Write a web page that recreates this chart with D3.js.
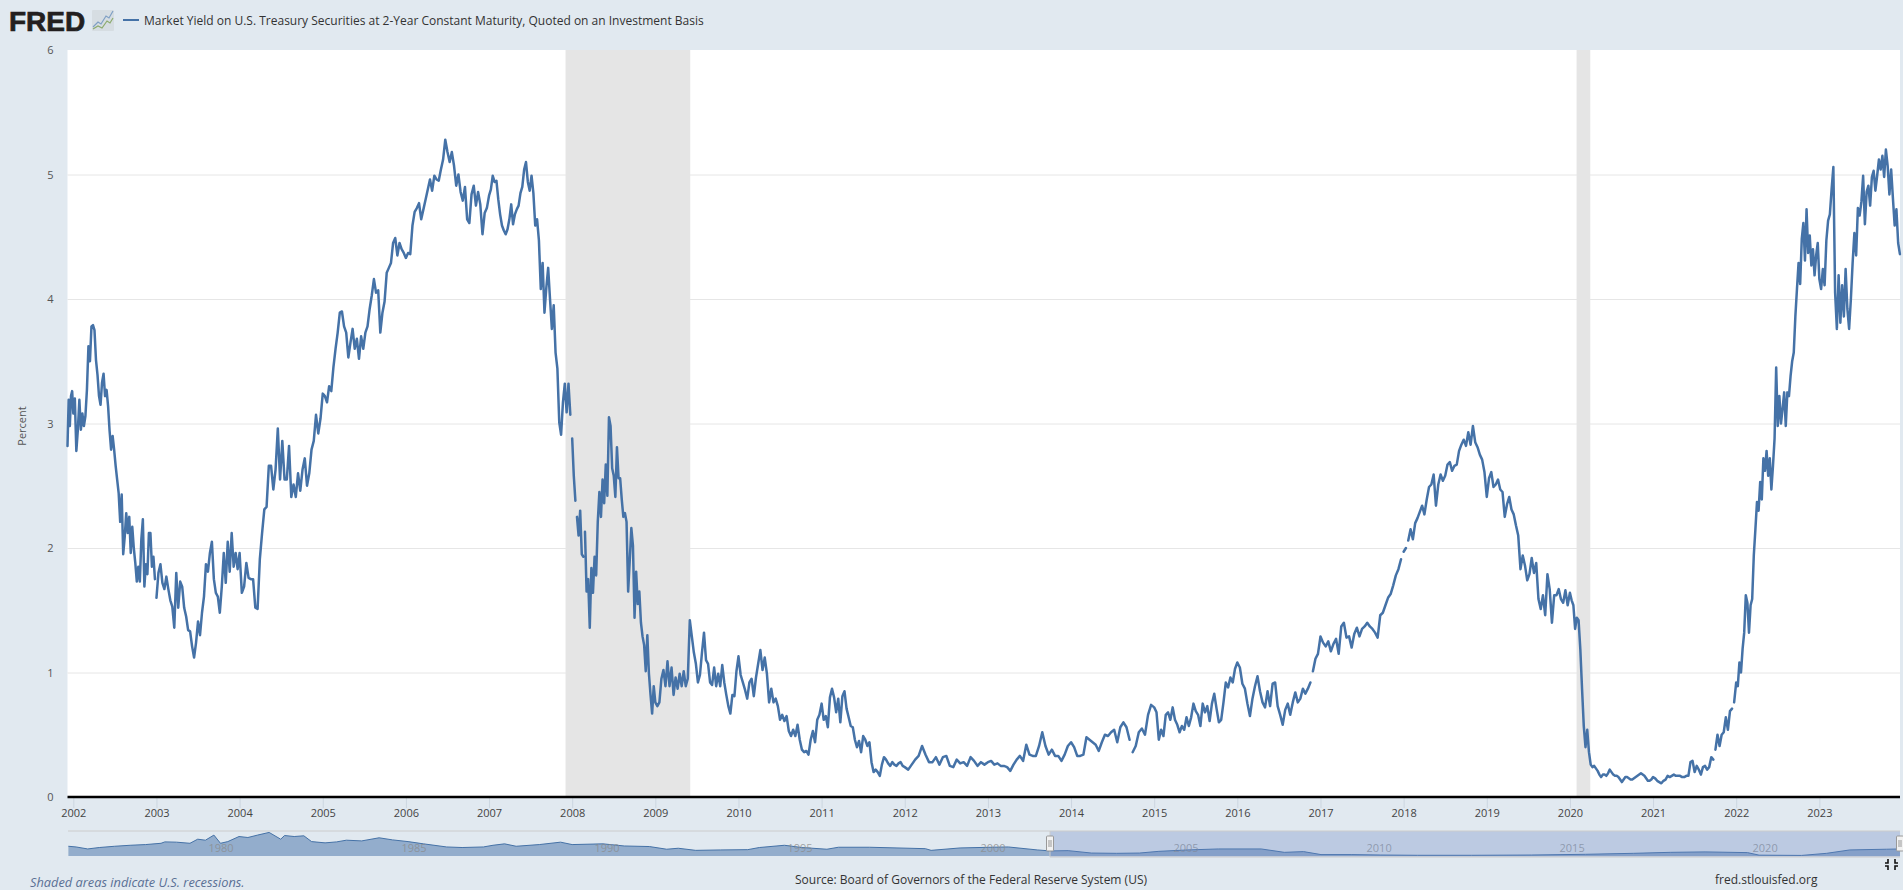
<!DOCTYPE html>
<html>
<head>
<meta charset="utf-8">
<title>FRED</title>
<script src="https://cdn.jsdelivr.net/npm/d3@7"></script>
<style>
  html, body { margin: 0; padding: 0; background: #e1e9f0; overflow: hidden; }
  svg { display: block; font-family: "Open Sans", sans-serif; }
  text { fill: #333; }
</style>
</head>
<body>
<script>
// Readings per calendar year, evenly spaced inside the year, null = missing day
var y2001 = [2.82,3.19,2.98,3.22,3.26]
var y2002 = [3.08,3.2,2.78,2.95,3.19,2.95,3.08,2.98,3.06,3.27,3.62,3.5,3.78,3.79,3.75,3.51,3.39,3.22,3.15,3.33,3.4,3.22,3.27,3.14,2.94,2.79,2.9,2.79,2.66,2.55,2.44,2.21,2.43,1.95,2.09,2.28,2.12,2.25,1.96,2.17,2.0,1.88,1.73,1.85,1.73,2.07,2.23,1.69,1.87,1.79,2.12,2.12,1.85,1.93,1.75]
var y2003 = [null,1.6,1.8,1.87,1.72,1.67,1.77,1.67,1.58,1.53,1.36,1.8,1.52,1.73,1.69,1.52,1.45,1.34,1.33,1.21,1.12,1.24,1.41,1.3,1.48,1.61,1.87,1.81,1.96,2.05,1.75,1.64,1.61,1.48,1.69,1.96,1.72,2.05,1.81,2.12,1.85,1.96,1.83]
var y2004 = [1.96,1.64,1.69,1.88,1.76,1.75,1.75,1.52,1.51,1.91,2.12,2.31,2.33,2.66,2.66,2.47,2.63,2.96,2.55,2.86,2.55,2.55,2.82,2.41,2.51,2.41,2.6,2.46,2.63,2.72,2.5,2.6,2.79,2.86,3.07,2.92,3.04]
var y2005 = [3.24,3.22,3.17,3.3,3.26,3.45,3.6,3.73,3.89,3.9,3.78,3.73,3.53,3.65,3.76,3.6,3.68,3.52,3.7,3.6,3.73,3.78,3.92,4.03,4.16,4.05,4.07,3.73,3.89,3.98,4.21,4.25,4.29,4.45,4.49,4.35,4.45,4.4,4.37]
var y2006 = [4.33,4.37,4.36,4.59,4.7,4.73,4.77,4.64,4.72,4.8,4.88,4.96,4.87,4.99,4.96,4.95,5.04,5.12,5.28,5.18,5.1,5.18,5.07,4.91,5.0,4.86,4.79,4.9,4.64,4.61,4.84,4.91,4.75,4.86,4.76,4.52,4.69,4.73]
var y2007 = [4.83,4.88,4.99,4.94,4.95,4.8,4.68,4.59,4.55,4.52,4.56,4.64,4.76,4.6,4.68,4.72,4.75,4.85,4.9,5.04,5.1,4.94,4.87,4.99,4.85,4.59,4.64,4.47,4.08,4.29,3.89,4.09,4.25,4.0,3.76,3.95,3.57,3.44,3.01,2.91,3.17,3.32,3.09,3.32,3.07]
var y2008 = [null,2.88,2.58,2.38,null,2.25,2.1,2.3,1.95,1.93,null,2.13,1.65,1.75,1.36,1.84,1.64,1.93,1.78,2.21,2.45,2.25,2.55,2.36,2.67,2.42,3.05,2.98,2.64,2.58,2.41,2.81,2.56,2.56,2.39,2.25,2.28,2.21,1.65,1.9,2.16,2.02,1.44,1.81,1.55,1.65,1.4,1.29,1.22,1.01,1.3,.99,.82,.67,.89]
var y2009 = [.76,.73,.76,.95,1.02,.89,1.09,.89,1.04,.82,.96,.87,.99,.89,1.01,.89,.95,1.42,1.29,1.16,1.07,.92,.98,1.16,1.32,1.1,1.07,.92,.9,1.04,.89,.99,.89,1.06,.92,.82,.73,.67,.82,.81,1.01]
var y2010 = [1.13,.98,.92,.86,.79,.92,.95,.81,.96,1.07,1.18,1.02,1.12,.99,.76,.87,.76,.79,.73,.62,.66,.61,.65,.53,.49,.54,.49,.58,.46,.38,.36,.37,.34,.46,.53,.44,.62,.66]
var y2011 = [.75,.62,.65,.56,.8,.87,.8,.68,.79,.6,.81,.85,.71,.64,.57,.56,.46,.4,.45,.36,.49,.46,.41,.44,.28,.2,.22,.2,.17,.26,.32,.3,.27,.25,.28,.26,.25,.27,.28,.25]
var y2012 = [.24,.22,.26,.3,.33,.41,.34,.28,.28,.32,.26,.32,.33,.25,.24,.3,.27,.28,.25,.32,.29,.25,.28,.26]
var y2013 = [.28,.29,.26,.27,.25,.25,.24,.21,.26,.3,.33,.29,.42,.34,.33,.33,.41,.52,.41,.34,.38,.33,.33,.29,.34,.41]
var y2014 = [.44,.4,.33,.33,.34,.48,.46,.44,.42,.37,.44,.5,.49,.52,.54,.44,.56,.6,.56,.46,null,.36,.41,.52,.55,.5,.66,.74]
var y2015 = [.72,.68,.46,.54,.49,.66,.68,.62,.72,.62,.58,.52,.57,.54,.64,.57,.64,.75,.69,.66,.57,.75,.68,.73,.61,.75,.83,.71,.6,.62,.76,.92,.88,.96,.92,1.03]
var y2016 = [1.08,1.04,.91,.87,.75,.65,.79,.89,.97,.85,.76,.72,.85,.73,.91,.92,.73,.66,.58,.7,.75,.66,.76,.84,.76,.79,.87,.83,.87,.92,null,1.01,1.11,1.15]
var y2017 = [1.29,1.24,1.21,1.25,1.17,1.23,1.27,1.15,1.37,1.4,1.28,1.29,1.2,1.31,1.36,1.29,1.35,1.37,1.4,1.37,1.35,1.32,1.28,1.46,1.48,1.54,1.6,1.63,1.7,1.78,1.83,1.91]
var y2018 = [null,1.97,2.0,null,2.06,2.15,2.07,2.2,2.24,2.29,2.34,2.27,2.39,2.49,2.51,2.59,2.34,2.51,2.59,2.54,2.58,2.67,2.69,2.62,2.66,2.67,2.78,2.83,2.87,2.82,2.93,2.83,2.98,2.85,2.81,2.75,2.71,2.61]
var y2019 = [2.41,2.56,2.61,2.49,2.51,2.55,2.47,2.45,2.25,2.35,2.41,2.31,2.27,2.18,2.1,1.83,1.94,1.86,1.74,1.79,1.92,1.8,1.88,1.59,1.51,1.62,1.46,1.79,1.67,1.4,1.62,1.62,1.67,1.59,1.56,1.66,1.54]
var y2020 = [1.64,1.58,1.54,1.35,1.44,1.42,1.19,.87,.57,.4,.54,.36,.26,.24,.25,.23,.21,.18,.16,.18,.18,.17,.19,.22,.2,.18,.17,.17,.16,.14,.12,.14,.16,.16,.15,.14,.14,.15,.16,.17,.18,.19,.18,.17,.15,.13,.13,.14]
var y2021 = [.16,.15,.13,.12,.11,.13,.14,.17,.16,.17,.18,.17,.17,.17,.16,.16,.17,.17,.28,.29,.2,.25,.22,.18,.24,.25,.22,.24,.32,.3,null,.38,.5,.41,.5,.52,.64,.54,.69,.71,null,.76]
var y2022 = [.92,.89,1.08,1.0,1.19,1.32,1.62,1.56,1.32,1.54,1.59,1.94,2.15,2.37,2.3,2.53,2.39,2.72,2.62,2.78,2.58,2.72,2.47,2.66,2.88,3.45,2.98,3.22,3.0,3.12,3.25,2.98,3.25,3.22,3.38,3.5,3.57,3.86,4.08,4.29,4.12,4.48,4.61,4.31,4.72,4.37,4.51,4.27,4.4,4.19,4.35,4.45]
var y2023 = [4.16,4.08,4.24,4.11,4.47,4.63,4.68,4.88,5.06,4.05,3.76,4.19,3.81,4.11,3.86,4.24,3.92,3.76,4.0,4.29,4.53,4.35,4.73,4.67,4.78,4.99,4.6,4.86,4.91,4.75,4.98,5.03,4.87,4.99,5.12,5.04,5.15,4.98,5.2,5.07,4.84,5.04,4.81,4.59,4.72,4.45,4.36]

var yearRows = [y2001,y2002,y2003,y2004,y2005,y2006,y2007,y2008,y2009,y2010,y2011,y2012,y2013,y2014,y2015,y2016,y2017,y2018,y2019,y2020,y2021,y2022,y2023]
var yearEdges = [2001.93,2002,2003,2004,2005,2006,2007,2008,2009,2010,2011,2012,2013,2014,2015,2016,2017,2018,2019,2020,2021,2022,2023,2023.99]

var xTickYears = d3.range(2002, 2024)
var yTicks = [0, 1, 2, 3, 4, 5, 6]
var recessions = [[2007.92, 2009.42], [2020.08, 2020.245]]

// Whole history for the navigator strip at the bottom
var navYears = [1976.5,1976.7,1977,1977.3,1977.7,1978.1,1978.5,1978.9,1979,1979.3,1979.65,1979.85,1980.05,1980.27,1980.44,1980.63,1980.92,1981.15,1981.4,1981.7,1982,1982.1,1982.35,1982.6,1982.8,1983.15,1983.45,1983.7,1984.1,1984.55,1984.9,1985.3,1985.7,1986.3,1986.7,1987.25,1987.5,1987.8,1988.1,1988.7,1989.25,1989.55,1990.35,1990.9,1991.55,1992,1992.3,1992.75,1993.4,1994.1,1994.4,1995.05,1995.5,1996.15,1996.45,1997.25,1998.7,1998.85,1999.6,2000.4,2000.85,2001.6,2001.93,2002.4,2003,2003.65,2004.25,2004.75,2005.5,2006.3,2007.4,2008,2008.5,2008.95,2009.75,2010.5,2011.45,2012.85,2014.4,2015.8,2017.05,2018,2018.9,2020,2020.3,2021.4,2022.05,2022.65,2023.6,2023.95]
var navValues = [6.9,6.4,5,6,6.9,7.6,8.1,9,10,9.8,9,11.9,11.2,14.8,9,10.2,13.8,13.1,14.8,16.7,11.9,14.5,13.8,14.3,10.2,9.3,10,11.2,10.7,12.9,11.4,10.2,8.6,6.4,6,6.4,7.6,8.6,6.9,8.1,9.8,8.1,8.6,7.1,6.7,4.8,5.5,4,4.3,4.5,6,7.6,6,4.8,6.2,6.2,5.2,4,5.7,6.2,6.4,4.3,3.6,3.8,2.1,1.9,2.1,3.3,4.3,5,5,2.6,3.1,1,1,.7,.5,.5,.7,1.2,1.9,2.6,2.9,2.4,.6,.4,1.9,4.3,4.8,5]
var navLabels = [1980, 1985, 1990, 1995, 2000, 2005, 2010, 2015, 2020]

var titleText = "Market Yield on U.S. Treasury Securities at 2-Year Constant Maturity, Quoted on an Investment Basis"

var w = 1903
var h = 890
var lineColor = "#4572a7"
var plotLeft = 67.5, plotRight = 1900, plotTop = 50, plotBottom = 797
var navTop = 831, navBottom = 856

var series = []
yearRows.forEach(function (row, r) {
  var start = yearEdges[r], end = yearEdges[r + 1]
  var n = row.filter(function (v) { return v !== null }).length
  var k = 0
  row.forEach(function (v) {
    series.push({ t: start + (end - start) * k / n, v: v })
    if (v !== null) k++
  })
})

var svg = d3.select("body").append("svg").attr("width", w).attr("height", h)

var x = d3.scaleLinear().domain([2001.93, 2023.97]).range([plotLeft, plotRight])
var y = d3.scaleLinear().domain([0, 6]).range([plotBottom, plotTop])

svg.append("rect").attr("x", plotLeft).attr("y", plotTop)
  .attr("width", plotRight - plotLeft).attr("height", plotBottom - plotTop).attr("fill", "#fff")

// gridlines
var grid = svg.append("g").attr("transform", "translate(" + plotLeft + ",0)")
  .call(d3.axisLeft(y).tickValues(yTicks.slice(1, 6)).tickSize(plotLeft - plotRight).tickFormat(""))
grid.select(".domain").remove()
grid.selectAll("line").attr("stroke", "#e6e6e6")

// recession bands go over the grid
svg.selectAll("rect.recession")
  .data(recessions)
  .enter()
  .append("rect")
  .attr("class", "recession")
  .attr("x", function (d) { return x(d[0]) })
  .attr("y", plotTop)
  .attr("width", function (d) { return x(d[1]) - x(d[0]) })
  .attr("height", plotBottom - plotTop)
  .attr("fill", "#e5e5e5")

var line = d3.line()
  .defined(function (d) { return d.v !== null })
  .x(function (d) { return x(d.t) })
  .y(function (d) { return y(d.v) })

svg.append("path")
  .datum(series)
  .attr("fill", "none")
  .attr("stroke", lineColor)
  .attr("stroke-width", 2.5)
  .attr("stroke-linejoin", "round")
  .attr("stroke-linecap", "round")
  .attr("d", line)

// y axis labels
var yAxis = svg.append("g").attr("transform", "translate(" + plotLeft + ",0)")
  .call(d3.axisLeft(y).tickValues(yTicks).tickSize(0).tickPadding(14).tickFormat(d3.format("d")))
yAxis.select(".domain").remove()
yAxis.selectAll("text").attr("font-size", 11).attr("font-family", "Open Sans").style("fill", "#555")

svg.append("text")
  .attr("transform", "translate(26,426) rotate(-90)")
  .attr("text-anchor", "middle")
  .attr("font-size", 11)
  .style("fill", "#555")
  .text("Percent")

// x axis
var xAxis = svg.append("g").attr("transform", "translate(0," + plotBottom + ")")
  .call(d3.axisBottom(x).tickValues(xTickYears).tickSize(11).tickPadding(1).tickFormat(d3.format("d")))
xAxis.select(".domain").remove()
xAxis.selectAll("line").attr("stroke", "#ccd6e0")
xAxis.selectAll("text").attr("font-size", 11).attr("font-family", "Open Sans").style("fill", "#444")

svg.append("line")
  .attr("x1", plotLeft).attr("x2", plotRight)
  .attr("y1", plotBottom).attr("y2", plotBottom)
  .attr("stroke", "#000").attr("stroke-width", 2.4)

// navigator
var navX = d3.scaleLinear().domain([1976.49, 2023.95]).range([68, 1900])
var navY = d3.scaleLinear().domain([0, 17]).range([navBottom, navTop + 1])
var navPoints = navYears.map(function (t, i) { return { t: t, v: navValues[i] } })

svg.append("path")
  .datum(navPoints)
  .attr("fill", lineColor)
  .attr("fill-opacity", 0.5)
  .attr("d", d3.area().x(function (d) { return navX(d.t) }).y0(navBottom).y1(function (d) { return navY(d.v) }))

svg.append("path")
  .datum(navPoints)
  .attr("fill", "none")
  .attr("stroke", lineColor)
  .attr("stroke-width", 1)
  .attr("d", d3.line().x(function (d) { return navX(d.t) }).y(function (d) { return navY(d.v) }))

svg.selectAll("text.navlabel")
  .data(navLabels)
  .enter()
  .append("text")
  .attr("class", "navlabel")
  .attr("x", function (d) { return navX(d) + 5 })
  .attr("y", 852)
  .attr("font-size", 11)
  .attr("fill-opacity", 0.75)
  .style("fill", "#8a8a8a")
  .text(function (d) { return d })

var selStart = navX(2001.93), selEnd = navX(2023.95)
svg.append("rect")
  .attr("x", selStart).attr("y", navTop)
  .attr("width", selEnd - selStart).attr("height", navBottom - navTop + 1)
  .attr("fill", "#6685c2").attr("fill-opacity", 0.3)

svg.append("path")
  .attr("d", "M68," + navTop + "H1900M" + selStart + "," + navTop + "V" + (navBottom + 1) + "H1900")
  .attr("fill", "none")
  .attr("stroke", "#ccc")

var handles = svg.selectAll("g.handle")
  .data([selStart, selEnd])
  .enter()
  .append("g")
  .attr("class", "handle")
  .attr("transform", function (d) { return "translate(" + d + ",836)" })
handles.append("rect")
  .attr("x", -3.5).attr("width", 7).attr("height", 15).attr("rx", 1)
  .attr("fill", "#f2f2f2").attr("stroke", "#999")
handles.append("path")
  .attr("d", "M-1,4V11M1,4V11")
  .attr("stroke", "#999")

// the little fullscreen corners
svg.append("path")
  .attr("d", "M1888,859V863H1885M1895,859V863H1898M1888,870V866H1885M1895,870V866H1898")
  .attr("fill", "none")
  .attr("stroke", "#111")
  .attr("stroke-width", 1.6)

// header
svg.append("text")
  .attr("x", 9).attr("y", 31)
  .attr("font-family", "Liberation Sans")
  .attr("font-size", 28)
  .attr("font-weight", 700)
  .attr("stroke", "#231f20")
  .attr("stroke-width", 0.7)
  .style("fill", "#231f20")
  .text("FRED")

svg.append("rect")
  .attr("x", 92).attr("y", 10).attr("width", 22).attr("height", 21).attr("rx", 1)
  .attr("fill", "#d6dde2")
svg.append("path")
  .attr("d", "M93,27L98,22L101,24L106,16L109,18L113,11")
  .attr("fill", "none").attr("stroke", "#7f9fc4").attr("stroke-width", 1.2)
svg.append("path")
  .attr("d", "M93,29L98,26L102,28L107,21L110,23L113,18")
  .attr("fill", "none").attr("stroke", "#8cab6e").attr("stroke-width", 1.2)

svg.append("line")
  .attr("x1", 123).attr("x2", 139).attr("y1", 20).attr("y2", 20)
  .attr("stroke", lineColor).attr("stroke-width", 2)

svg.append("text")
  .attr("x", 144).attr("y", 25)
  .attr("font-size", 12)
  .text(titleText)

// footer
svg.append("text")
  .attr("x", 30).attr("y", 886.5)
  .attr("font-size", 12.8)
  .attr("font-style", "italic")
  .style("fill", "#5a7095")
  .text("Shaded areas indicate U.S. recessions.")

svg.append("text")
  .attr("x", 795).attr("y", 884)
  .attr("font-size", 12)
  .text("Source: Board of Governors of the Federal Reserve System (US)")

svg.append("text")
  .attr("x", 1715).attr("y", 884)
  .attr("font-size", 12)
  .text("fred.stlouisfed.org")
</script>
</body>
</html>
